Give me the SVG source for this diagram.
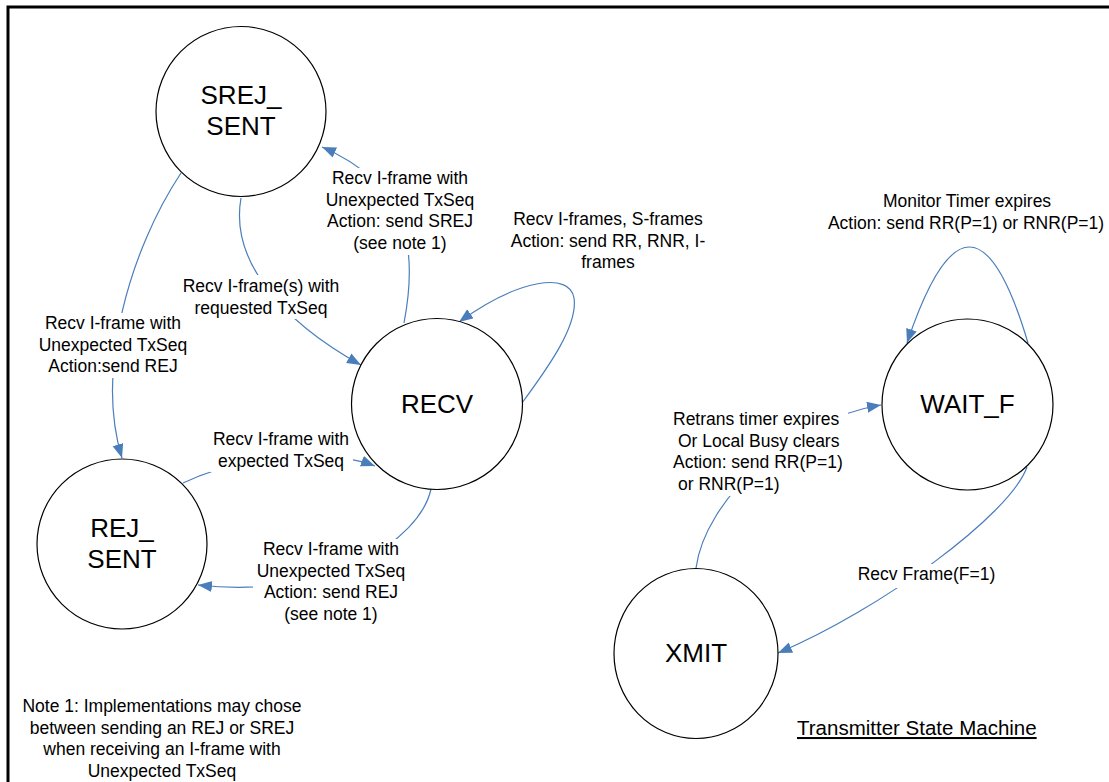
<svg xmlns="http://www.w3.org/2000/svg" width="1109" height="782" viewBox="0 0 1109 782">
<style>
.node circle, .node ellipse { fill: #ffffff; stroke: #000000; stroke-width: 1.2; }
.nt { font-family: "Liberation Sans", Arial, sans-serif; font-size: 26px; fill: #000; text-anchor: middle; }
.lb { font-family: "Liberation Sans", Arial, sans-serif; font-size: 17.5px; fill: #000; text-anchor: middle; }
.lbl { font-family: "Liberation Sans", Arial, sans-serif; font-size: 17.5px; fill: #000; }
.title { font-family: "Liberation Sans", Arial, sans-serif; font-size: 20.5px; fill: #000; text-decoration: underline; }
.conn path { fill: none; stroke: #4a7ebb; stroke-width: 1.2; marker-end: url(#arr); }
.bg { fill: #ffffff; stroke: none; }
</style>
<defs>
<marker id="arr" markerUnits="userSpaceOnUse" markerWidth="15" markerHeight="12" refX="14" refY="5.5" orient="auto">
<path d="M0,0 L14,5.5 L0,11 z" fill="#4a7ebb"/>
</marker>
</defs>
<rect x="0" y="0" width="1109" height="782" fill="#ffffff"/>
<path d="M8,782 L8,7 L1109,7" fill="none" stroke="#000" stroke-width="3"/>

<g id="connectors" class="conn">
<path id="recv-srej" d="M404,323 C418,250 410,185 322,147"/>
<path id="srej-recv" d="M241,198 C230,260 280,320 361,365"/>
<path id="srej-rej" d="M181,173 C130,250 95,370 122,458"/>
<path id="rej-recv" d="M183,483 C230,460 320,445 375,466"/>
<path id="recv-rej" d="M431,489 C420,540 330,600 198,585"/>
<path id="recv-self" d="M522,403 C550,365 578,325 574,298 C570,272 520,278 459,322"/>
<path id="waitf-self" d="M1028,343 C990,215 950,215 907,343"/>
<path id="xmit-waitf" d="M696,568 C705,500 790,420 881,405"/>
<path id="waitf-xmit" d="M1027,467 C1010,515 880,610 778,653"/>
</g>

<g id="labels">
<rect class="bg" x="330" y="168" width="140" height="87"/>
<text class="lb" x="400" y="184">Recv I-frame with</text>
<text class="lb" x="400" y="205.5">Unexpected TxSeq</text>
<text class="lb" x="400" y="227">Action: send SREJ</text>
<text class="lb" x="400" y="248.5">(see note 1)</text>

<text class="lb" x="608" y="225">Recv I-frames, S-frames</text>
<text class="lb" x="608" y="246.5">Action: send RR, RNR, I-</text>
<text class="lb" x="608" y="268">frames</text>

<rect class="bg" x="180" y="275" width="162" height="44"/>
<text class="lb" x="261" y="292">Recv I-frame(s) with</text>
<text class="lb" x="261" y="313.5">requested TxSeq</text>

<rect class="bg" x="38" y="313" width="152" height="65"/>
<text class="lb" x="113" y="329">Recv I-frame with</text>
<text class="lb" x="113" y="350.5">Unexpected TxSeq</text>
<text class="lb" x="113" y="372">Action:send REJ</text>

<rect class="bg" x="210" y="429" width="143" height="43"/>
<text class="lb" x="281" y="445">Recv I-frame with</text>
<text class="lb" x="281" y="466.5">expected TxSeq</text>

<rect class="bg" x="253" y="539" width="155" height="86"/>
<text class="lb" x="331" y="555">Recv I-frame with</text>
<text class="lb" x="331" y="576.5">Unexpected TxSeq</text>
<text class="lb" x="331" y="598">Action: send REJ</text>
<text class="lb" x="331" y="619.5">(see note 1)</text>

<text class="lb" x="162" y="712">Note 1: Implementations may chose</text>
<text class="lb" x="162" y="733.5">between sending an REJ or SREJ</text>
<text class="lb" x="162" y="755">when receiving an I-frame with</text>
<text class="lb" x="162" y="776.5">Unexpected TxSeq</text>

<text class="lb" x="967" y="207">Monitor Timer expires</text>
<text class="lb" x="966" y="228.5">Action: send RR(P=1) or RNR(P=1)</text>

<rect class="bg" x="670" y="409" width="178" height="87"/>
<text class="lbl" x="673" y="425">Retrans timer expires</text>
<text class="lbl" x="678" y="446.5">Or Local Busy clears</text>
<text class="lbl" x="673" y="468">Action: send RR(P=1)</text>
<text class="lbl" x="678" y="489.5">or RNR(P=1)</text>

<rect class="bg" x="858" y="564" width="137" height="24"/>
<text class="lb" x="926.5" y="580">Recv Frame(F=1)</text>

<text class="title" x="797" y="735">Transmitter State Machine</text>
</g>

<g id="node-srej-sent" class="node">
<circle cx="241" cy="111.5" r="85"/>
<text class="nt" x="241" y="104">SREJ_</text>
<text class="nt" x="241" y="135">SENT</text>
</g>
<g id="node-recv" class="node">
<circle cx="437" cy="404" r="85.5"/>
<text class="nt" x="437" y="413">RECV</text>
</g>
<g id="node-rej-sent" class="node">
<circle cx="122" cy="544" r="85"/>
<text class="nt" x="122" y="537">REJ_</text>
<text class="nt" x="122" y="568">SENT</text>
</g>
<g id="node-wait-f" class="node">
<circle cx="967.5" cy="404.5" r="85.5"/>
<text class="nt" x="967.5" y="413">WAIT_F</text>
</g>
<g id="node-xmit" class="node">
<ellipse cx="696" cy="653.5" rx="82" ry="85"/>
<text class="nt" x="696" y="662">XMIT</text>
</g>
</svg>
